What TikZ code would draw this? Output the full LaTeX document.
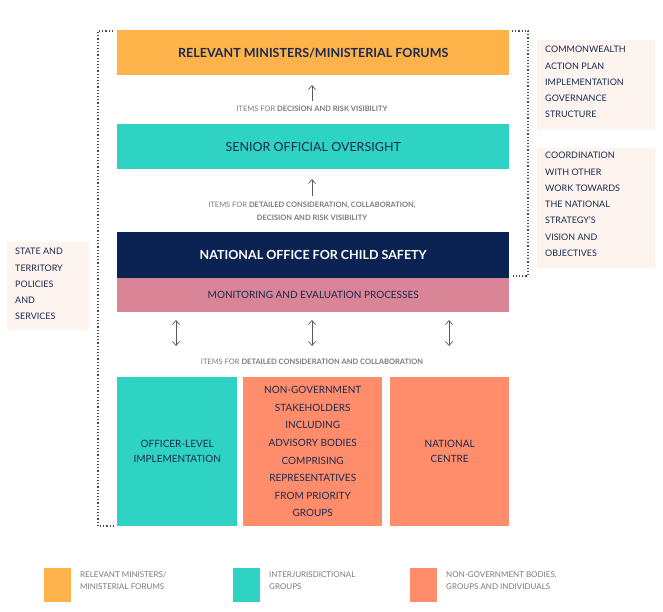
\documentclass[tikz,border=0pt]{standalone}
\usepackage{fontspec}
\setmainfont{Lato}
\usetikzlibrary{arrows.meta}
\definecolor{corng}{HTML}{FDB24A}
\definecolor{cteal}{HTML}{2ED3C3}
\definecolor{cnavy}{HTML}{0B2352}
\definecolor{cpink}{HTML}{DA8497}
\definecolor{csalm}{HTML}{FF8C6B}
\definecolor{cbg}{HTML}{FDF4EF}
\definecolor{ctxt}{HTML}{1A2A4F}
\definecolor{cgray}{HTML}{7A7A7A}
\begin{document}
\begin{tikzpicture}[x=1pt,y=-1pt,
  bar/.style={anchor=north west,inner sep=0,text=ctxt,align=center},
  side/.style={anchor=north west,fill=cbg,inner sep=0,text=ctxt,font=\fontsize{9}{12.2}\selectfont},
  lbl/.style={text=cgray,font=\fontsize{7.5}{13}\selectfont,align=center},
  arr/.style={-{Straight Barb[length=4pt,width=7pt]},draw=black!65,line width=0.7pt},
  darr/.style={{Straight Barb[length=4pt,width=7pt]}-{Straight Barb[length=4pt,width=7pt]},draw=black!65,line width=0.7pt},
  leg/.style={anchor=north west,text=cgray,font=\fontsize{8}{12.5}\selectfont,align=left,inner sep=0}]
\useasboundingbox (0,0) rectangle (663,612);
% dotted frames
\draw[dotted,line width=1.2pt,black!70] (113,31) -- (98,31) -- (98,526) -- (113,526);
\draw[dotted,line width=1.2pt,black!70] (512,31) -- (528,31) -- (528,276) -- (512,276);
\node[bar,fill=corng,minimum width=392,minimum height=45,font=\bfseries\fontsize{12.5}{14}\selectfont] (min) at (117,30) {RELEVANT MINISTERS/MINISTERIAL FORUMS};
\node[bar,fill=cteal,minimum width=392,minimum height=45,font=\fontsize{12.5}{14}\selectfont] (sen) at (117,124) {SENIOR OFFICIAL OVERSIGHT};
\node[bar,fill=cnavy,text=white,minimum width=392,minimum height=46,font=\bfseries\fontsize{12.5}{14}\selectfont] (nat) at (117,232) {NATIONAL OFFICE FOR CHILD SAFETY};
\node[bar,fill=cpink,minimum width=392,minimum height=34,font=\fontsize{10}{12}\selectfont] (mon) at (117,278) {MONITORING AND EVALUATION PROCESSES};
\node[bar,fill=cteal,minimum width=120,minimum height=149,font=\fontsize{10}{15}\selectfont] (off) at (117,377) {OFFICER-LEVEL\\IMPLEMENTATION};
\node[bar,fill=csalm,minimum width=139,minimum height=149,font=\fontsize{10}{17.6}\selectfont] (ngo) at (243,377) {NON-GOVERNMENT\\STAKEHOLDERS\\INCLUDING\\ADVISORY BODIES\\COMPRISING\\REPRESENTATIVES\\FROM PRIORITY\\GROUPS};
\node[bar,fill=csalm,minimum width=119,minimum height=149,font=\fontsize{10}{15}\selectfont] (ctr) at (390,377) {NATIONAL\\CENTRE};
% side notes
\node[side,minimum width=118,minimum height=90] (cw) at (537,40) {};
\node[anchor=north west,inner sep=0,text=ctxt,font=\fontsize{9}{16.3}\selectfont,align=left] (cwt) at (545,46) {COMMONWEALTH\\ACTION PLAN\\IMPLEMENTATION\\GOVERNANCE\\STRUCTURE};
\node[side,minimum width=118,minimum height=120] (co) at (537,148) {};
\node[anchor=north west,inner sep=0,text=ctxt,font=\fontsize{9}{16.3}\selectfont,align=left] (cot) at (545,152) {COORDINATION\\WITH OTHER\\WORK TOWARDS\\THE NATIONAL\\STRATEGY'S\\VISION AND\\OBJECTIVES};
\node[side,minimum width=82,minimum height=88] (st) at (7,242) {};
\node[anchor=north west,inner sep=0,text=ctxt,font=\fontsize{9}{16.3}\selectfont,align=left] (stt) at (15,248) {STATE AND\\TERRITORY\\POLICIES\\AND\\SERVICES};
% arrows and labels
\coordinate (a1) at (312,101); \coordinate (a1b) at (312,85);
\draw[arr] (312,101) -- (a1b);
\node[lbl] (l1) at (312,109) {ITEMS FOR \textbf{DECISION AND RISK VISIBILITY}};
\coordinate (a2b) at (312,179);
\draw[arr] (312,196) -- (a2b);
\node[lbl,font=\fontsize{7.5}{13.5}\selectfont] (l2) at (312,211.5) {ITEMS FOR \textbf{DETAILED CONSIDERATION, COLLABORATION,}\\\textbf{DECISION AND RISK VISIBILITY}};
\foreach \x/\n in {176/d1,312/d2,449/d3}{
  \coordinate (\n t) at (\x,320); \coordinate (\n b) at (\x,346);
  \draw[darr] (\n t) -- (\n b);}
\node[lbl] (l3) at (312,362) {ITEMS FOR \textbf{DETAILED CONSIDERATION AND COLLABORATION}};
% legend
\fill[corng] (44,568) rectangle (71,602);
\fill[cteal] (233,568) rectangle (260,602);
\fill[csalm] (410,568) rectangle (437,602);
\node[leg] (g1) at (80,571) {RELEVANT MINISTERS/\\MINISTERIAL FORUMS};
\node[leg] (g2) at (269,571) {INTERJURISDICTIONAL\\GROUPS};
\node[leg] (g3) at (446,571) {NON-GOVERNMENT BODIES,\\GROUPS AND INDIVIDUALS};
\end{tikzpicture}
\end{document}
